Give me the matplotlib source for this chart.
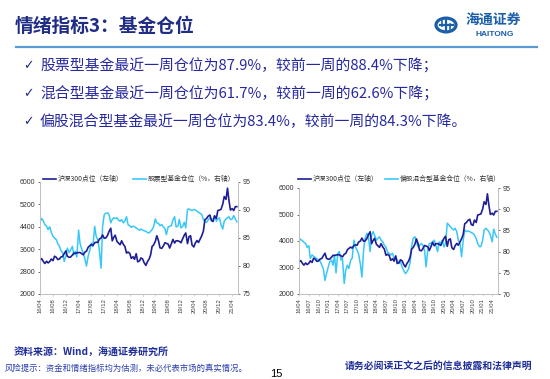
import matplotlib
matplotlib.use('Agg')
import matplotlib.pyplot as plt
import pandas as pd
from matplotlib.lines import Line2D
from matplotlib.patches import Circle

plt.rcParams['font.family'] = ['Noto Sans CJK SC', 'DejaVu Sans']

# ---------------- data (semi-monthly, 2016-04 .. 2021-05) ----------------
dates = pd.date_range('2016-04-01', periods=124, freq='SMS')

csi300 = [3220, 3260, 3160, 3090, 3170, 3110, 3160, 3250, 3190, 3350, 3310, 3230,
          3250, 3320, 3340, 3440, 3540, 3350,
          3310, 3320, 3390, 3460, 3450, 3470, 3480, 3480, 3440, 3400, 3500, 3530,
          3670, 3720, 3770, 3730, 3830, 3850, 3840, 3960, 4000, 4110, 3990, 4000,
          4090, 4230, 4350, 3900, 4020, 4100, 3880, 3820, 3760, 3900, 3770, 3700,
          3460, 3500, 3450, 3270, 3330, 3240, 3440, 3150, 3180, 3290, 3250, 3120,
          3020, 3150, 3250, 3400, 3700, 3750, 3880, 4080, 3900, 3650, 3630, 3710,
          3830, 3810, 3780, 3640, 3800, 3950, 3820, 3900, 3900, 3880, 3830, 3960,
          4100, 4180, 3800, 4050, 4080, 3750, 3680, 3820, 3910, 3840, 3970, 4080,
          4250, 4650, 4700, 4780, 4820, 4620, 4590, 4790, 4700, 4980, 5000, 5020,
          5210, 5480, 5380, 5780, 5340, 5000, 5050, 4980, 5120, 5120]

stock_fund_pos = [88.0, 88.5, 88.0, 87.4, 87.1, 86.5, 87.0, 86.0, 85.3, 85.0, 84.7, 84.0,
                  83.5, 82.8, 82.3, 80.8, 81.8, 83.2, 82.4, 82.9, 83.5, 82.0, 82.6, 81.6,
                  86.4, 84.0, 83.0, 82.3, 81.2, 80.0, 81.8, 82.7, 84.1, 83.5, 87.1, 85.3,
                  84.7, 82.9, 79.6, 87.0, 89.2, 89.4, 89.5, 89.2, 87.7, 88.3, 88.6, 88.5,
                  88.6, 88.2, 88.0, 88.3, 87.7, 88.0, 88.8, 87.4, 87.2, 86.9, 87.1, 87.0,
                  86.8, 86.6, 86.4, 86.6, 86.4, 86.3, 86.2, 86.0, 85.9, 86.2, 86.5, 87.0,
                  88.4, 87.7, 87.6, 87.2, 87.4, 87.0, 86.7, 85.6, 87.0, 87.1, 87.2, 88.2,
                  88.8, 87.0, 87.1, 88.3, 86.8, 87.0, 87.8, 86.8, 90.1, 90.2, 90.0, 89.9,
                  90.1, 90.0, 89.8, 89.6, 89.4, 89.2, 88.3, 88.0, 87.8, 88.2, 88.6, 88.4,
                  88.3, 89.0, 88.0, 88.4, 88.6, 87.4, 86.6, 88.0, 88.4, 88.6, 88.8, 88.3,
                  88.4, 89.0, 88.4, 87.9]

mixed_fund_pos = [83.2, 82.8, 82.6, 82.2, 81.9, 81.0, 81.4, 78.4, 79.2, 78.9, 78.6, 78.3,
                  78.0, 77.8, 76.8, 76.0, 73.2, 74.8, 76.4, 77.6, 78.0, 76.8, 79.2, 75.0,
                  79.6, 80.0, 78.0, 78.4, 72.5, 75.6, 76.8, 76.0, 78.0, 78.4, 82.7, 81.1,
                  80.3, 79.4, 77.0, 74.0, 80.3, 83.1, 84.3, 83.7, 80.0, 83.9, 84.7, 83.9,
                  82.7, 83.1, 83.5, 82.7, 82.3, 81.5, 81.1, 79.9, 79.6, 79.2, 79.6, 78.4,
                  78.8, 78.0, 77.2, 77.6, 76.4, 75.6, 74.8, 75.2, 76.0, 77.5, 81.2, 83.1,
                  83.5, 82.3, 81.1, 81.5, 81.9, 81.5, 80.3, 76.4, 80.3, 81.9, 82.0, 82.3,
                  82.7, 81.5, 80.0, 82.3, 81.9, 82.7, 81.1, 81.9, 86.7, 86.3, 85.9, 85.5,
                  85.1, 85.5, 84.7, 82.7, 81.9, 78.8, 82.7, 85.1, 84.7, 84.9, 84.7, 84.5,
                  84.3, 83.9, 83.1, 81.9, 81.2, 81.2, 82.7, 85.1, 85.5, 85.1, 84.7, 83.9,
                  82.3, 85.3, 84.1, 83.4]

ticks_left = ['16/04', '16/08', '16/12', '17/04', '17/08', '17/12', '18/04', '18/08',
              '18/12', '19/04', '19/08', '19/12', '20/04', '20/08', '20/12', '21/04']
ticks_right = ['16/04', '16/07', '16/10', '17/01', '17/04', '17/07', '17/10', '18/01',
               '18/04', '18/07', '18/10', '19/01', '19/04', '19/07', '19/10', '20/01',
               '20/04', '20/07', '20/10', '21/01', '21/04']

title = '情绪指标3：基金仓位'
bullets = ['股票型基金最近一周仓位为87.9%，较前一周的88.4%下降；',
           '混合型基金最近一周仓位为61.7%，较前一周的62.6%下降；',
           '偏股混合型基金最近一周仓位为83.4%，较前一周的84.3%下降。']
legend_csi = '沪深300点位（左轴）'
legend_stock = '股票型基金仓位（%，右轴）'
legend_mixed = '偏股混合型基金仓位（%，右轴）'

# ---------------- styles ----------------
W, H = 550, 379
NAVY = '#1E1E96'
SKY = '#38C8F8'
TXT = '#26289E'
GRID = '#BFBFBF'

fig = plt.figure(figsize=(W / 100, H / 100), dpi=100)
fig.patch.set_facecolor('white')


def fx(x):
    return x / W


def fy(y):
    return 1 - y / H


def make_chart(rect, left_ticks, right_lim, right_ticks, pos, labels, leg2, legx):
    l, t, r, b = rect
    ax = fig.add_axes([fx(l), fy(b), (r - l) / W, (b - t) / H])
    ax2 = ax.twinx()
    ax.set_zorder(ax2.get_zorder() + 1)
    ax.patch.set_visible(False)
    ax2.plot(dates, pos, color=SKY, lw=1.1)
    ax.plot(dates, csi300, color=NAVY, lw=1.2)
    ax.set_ylim(2000, 6000)
    ax.set_yticks(left_ticks)
    ax2.set_ylim(*right_lim)
    ax2.set_yticks(right_ticks)
    tick_dates = [pd.to_datetime('20' + s, format='%Y/%m') for s in labels]
    ax.set_xticks(tick_dates)
    ax.set_xticklabels(labels, rotation=90, fontsize=4.2, color='#404040',
                       family='Liberation Sans')
    ax.set_xlim(pd.Timestamp('2016-03-30'), pd.Timestamp('2021-05-26'))
    for a in (ax, ax2):
        for s in a.spines.values():
            s.set_color(GRID)
            s.set_linewidth(0.6)
        a.spines['top'].set_visible(False)
        a.tick_params(axis='y', labelsize=5.0, colors='#333333', length=1.5,
                      width=0.5, pad=2)
        for lab in a.get_yticklabels():
            lab.set_family('Liberation Sans')
    ax.tick_params(axis='x', length=1.5, width=0.5, color=GRID, pad=1.5)
    # legend
    ly = 179
    x0, x1 = legx
    fig.add_artist(Line2D([fx(x0), fx(x0 + 13)], [fy(ly), fy(ly)], color=NAVY, lw=1.2))
    fig.text(fx(x0 + 15), fy(ly), legend_csi, fontsize=4.9, va='center', color='#333333')
    fig.add_artist(Line2D([fx(x1), fx(x1 + 13)], [fy(ly), fy(ly)], color=SKY, lw=1.2))
    fig.text(fx(x1 + 15), fy(ly), leg2, fontsize=4.9, va='center', color='#333333')
    return ax


make_chart((40, 182, 238, 294), [2000, 2800, 3600, 4400, 5200, 6000], (75, 95),
           [75, 80, 85, 90, 95], stock_fund_pos, ticks_left, legend_stock, (43, 133))
make_chart((299, 188, 498, 294), [2000, 3000, 4000, 5000, 6000], (70, 95),
           [70, 75, 80, 85, 90, 95], mixed_fund_pos, ticks_right, legend_mixed, (298, 385))

# ---------------- header ----------------
fig.text(fx(15), fy(26), title, fontsize=13.5, fontweight='bold', color='#1F2D86',
         va='center', ha='left')
fig.add_artist(Line2D([fx(16), fx(537)], [fy(47), fy(47)], color='#5B9BD5', lw=1.6))

# logo
LOGO = '#1B5FAA'
cx, cy, rr = 446, 25, 10
fig.add_artist(Circle((fx(cx), fy(cy)), rr / W, transform=fig.transFigure, fill=False,
                      ec=LOGO, lw=2.3))
fig.add_artist(Line2D([fx(cx - 6.5), fx(cx + 6.5)], [fy(cy), fy(cy)], color=LOGO, lw=1.6))
fig.add_artist(Line2D([fx(cx), fx(cx)], [fy(cy - 6.5), fy(cy + 6.5)], color=LOGO, lw=1.6))
fig.add_artist(Line2D([fx(cx - 4), fx(cx - 4)], [fy(cy - 4), fy(cy + 1)], color=LOGO, lw=1.2))
fig.add_artist(Line2D([fx(cx + 4), fx(cx + 4)], [fy(cy - 1), fy(cy + 4)], color=LOGO, lw=1.2))
fig.text(fx(466), fy(21), '海通证券', fontsize=10, color=LOGO, va='center', ha='left',
         fontstyle='italic', fontweight='bold')
fig.text(fx(475), fy(35), 'HAITONG', fontsize=6, color=LOGO, va='center', ha='left',
         family='Liberation Sans', fontweight='bold')

# bullets
for i, (y, txt) in enumerate(zip([66, 94, 122], bullets)):
    fig.text(fx(23), fy(y), '✓', fontsize=9, color='#1F2D86', va='center', ha='left',
             family='DejaVu Sans')
    fig.text(fx(40), fy(y), txt, fontsize=10.7, color=TXT, va='center', ha='left')

# footer
fig.text(fx(14), fy(352), '资料来源：Wind，海通证券研究所', fontsize=7.2, color='#1F2D9A',
         fontweight='bold', va='center', ha='left')
fig.text(fx(5), fy(368), '风险提示：资金和情绪指标均为估测，未必代表市场的真实情况。',
         fontsize=6, color='#2B3FB0', va='center', ha='left')
fig.text(fx(276), fy(374), '15', fontsize=8, color='black', va='center', ha='center',
         family='Liberation Sans')
fig.text(fx(532), fy(366), '请务必阅读正文之后的信息披露和法律声明', fontsize=7.1,
         color='#1F2D9A', fontweight='bold', va='center', ha='right')

fig.savefig('out.png', dpi=100, facecolor='white')
